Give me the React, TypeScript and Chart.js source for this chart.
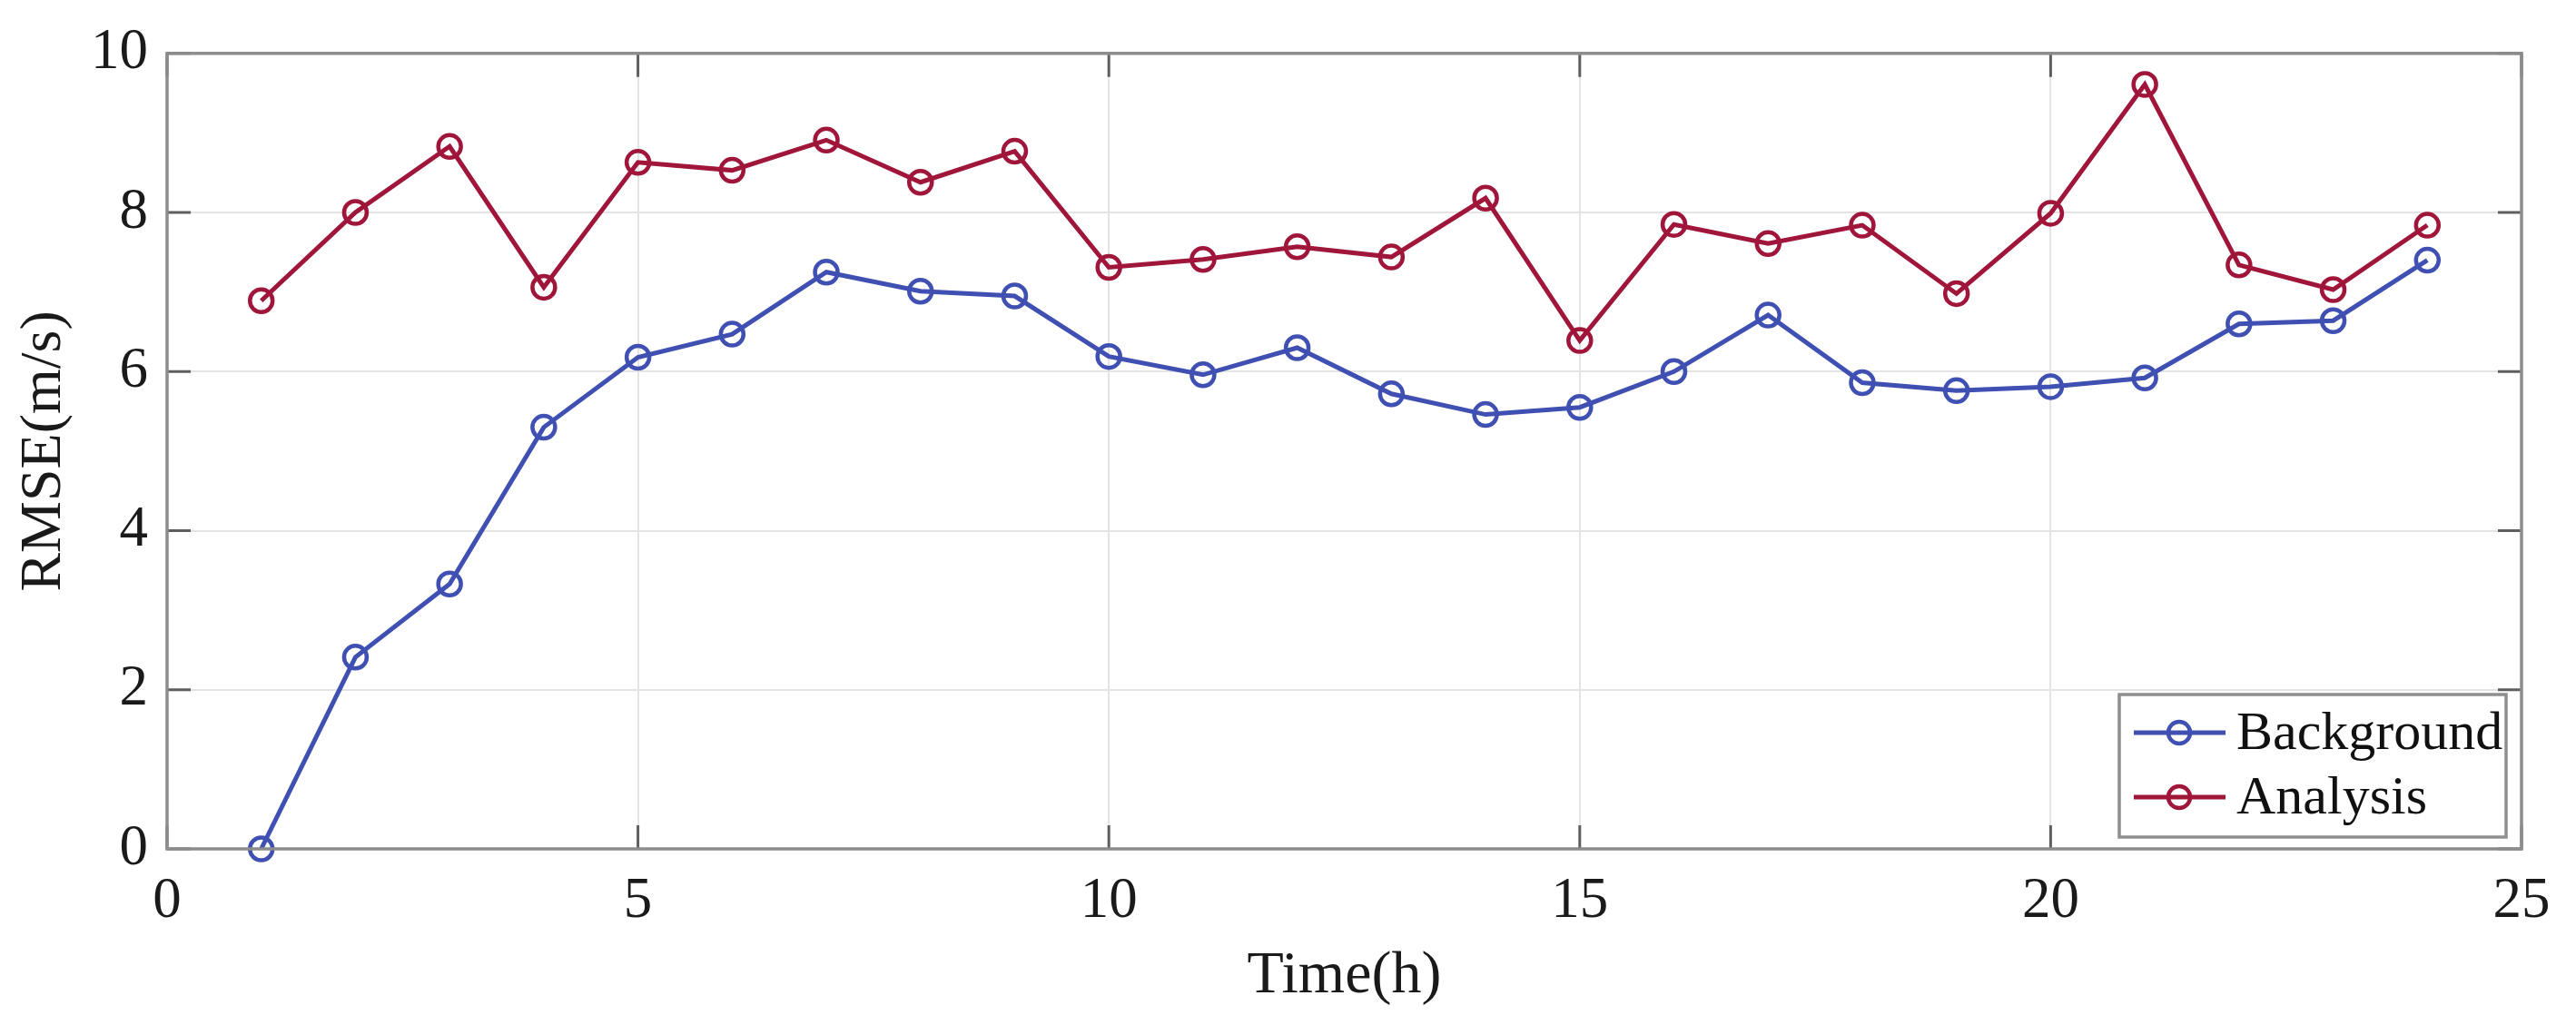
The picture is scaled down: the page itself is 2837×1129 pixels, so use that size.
import React, { useEffect, useRef } from "react";
import { Chart, registerables } from "chart.js";

Chart.register(...registerables);

const hours = [1, 2, 3, 4, 5, 6, 7, 8, 9, 10, 11, 12, 13, 14, 15, 16, 17, 18, 19, 20, 21, 22, 23, 24];
const backgroundRmse = [0, 2.41, 3.33, 5.3, 6.18, 6.47, 7.25, 7.01, 6.95, 6.19, 5.96, 6.3, 5.72, 5.46, 5.55, 6.0, 6.71, 5.86, 5.76, 5.81, 5.92, 6.6, 6.64, 7.4];
const analysisRmse = [6.89, 8.0, 8.83, 7.06, 8.63, 8.53, 8.91, 8.38, 8.77, 7.31, 7.41, 7.57, 7.44, 8.18, 6.39, 7.85, 7.61, 7.84, 6.98, 7.99, 9.61, 7.34, 7.03, 7.84];
const xTicks = [0, 5, 10, 15, 20, 25];
const yTicks = [0, 2, 4, 6, 8, 10];
const seriesLabels = ["Background", "Analysis"];
const xTitle = "Time(h)";
const yTitle = "RMSE(m/s)";

const BLUE = "#3f50b2";
const RED = "#a0163b";
const FONT = "'Liberation Serif', 'Times New Roman', serif";

const framePlugin = {
  id: "framePlugin",
  afterDatasetsDraw(chart: any) {
    const { ctx, chartArea } = chart;
    const { left, right, top, bottom } = chartArea;
    const xs = chart.scales.x;
    const ys = chart.scales.y;
    ctx.save();
    ctx.strokeStyle = "#5e5e5e";
    ctx.lineWidth = 3;
    const tl = 26;
    ctx.beginPath();
    xTicks.forEach((v) => {
      const px = xs.getPixelForValue(v);
      ctx.moveTo(px, bottom);
      ctx.lineTo(px, bottom - tl);
      ctx.moveTo(px, top);
      ctx.lineTo(px, top + tl);
    });
    yTicks.forEach((v) => {
      const py = ys.getPixelForValue(v);
      ctx.moveTo(left, py);
      ctx.lineTo(left + tl, py);
      ctx.moveTo(right, py);
      ctx.lineTo(right - tl, py);
    });
    ctx.stroke();
    ctx.strokeStyle = "#8c8c8c";
    ctx.lineWidth = 3.5;
    ctx.strokeRect(left, top, right - left, bottom - top);
    ctx.restore();
  },
  afterDraw(chart: any) {
    const { ctx } = chart;
    ctx.save();
    const bx = 2334, by = 765, bw = 426, bh = 157;
    ctx.fillStyle = "#ffffff";
    ctx.fillRect(bx, by, bw, bh);
    ctx.strokeStyle = "#8f8f8f";
    ctx.lineWidth = 3.5;
    ctx.strokeRect(bx, by, bw, bh);
    const rows = [807, 878];
    chart.data.datasets.forEach((ds: any, i: number) => {
      const y = rows[i];
      ctx.strokeStyle = ds.borderColor;
      ctx.lineWidth = 5;
      ctx.beginPath();
      ctx.moveTo(2350, y);
      ctx.lineTo(2451, y);
      ctx.stroke();
      ctx.lineWidth = 4.5;
      ctx.beginPath();
      ctx.arc(2400, y, 12, 0, Math.PI * 2);
      ctx.stroke();
      ctx.fillStyle = "#111111";
      ctx.font = `60px ${FONT}`;
      ctx.textAlign = "left";
      ctx.textBaseline = "middle";
      ctx.fillText(ds.label, 2463, y + 2);
    });
    ctx.restore();
  },
};

export default function App() {
  const canvasRef = useRef<HTMLCanvasElement | null>(null);

  useEffect(() => {
    const canvas = canvasRef.current;
    if (!canvas) return;
    const toPoints = (arr: number[]) => arr.map((v, i) => ({ x: hours[i], y: v }));
    const mk = (label: string, arr: number[], color: string) => ({
      label,
      data: toPoints(arr),
      borderColor: color,
      backgroundColor: "rgba(0,0,0,0)",
      borderWidth: 5,
      pointRadius: 12.5,
      pointBorderWidth: 4.5,
      pointBackgroundColor: "rgba(0,0,0,0)",
      pointBorderColor: color,
      tension: 0,
      clip: false as any,
    });
    const chart = new Chart(canvas, {
      type: "line",
      data: {
        datasets: [mk(seriesLabels[0], backgroundRmse, BLUE), mk(seriesLabels[1], analysisRmse, RED)],
      },
      options: {
        responsive: false,
        animation: false,
        devicePixelRatio: 1,
        layout: { padding: { left: 0, top: 43, right: 60, bottom: 0 } },
        plugins: {
          legend: { display: false },
          tooltip: { enabled: false },
        },
        scales: {
          x: {
            type: "linear",
            min: 0,
            max: 25,
            afterFit: (s: any) => {
              s.height = 194;
            },
            afterBuildTicks: (s: any) => {
              s.ticks = xTicks.map((v) => ({ value: v }));
            },
            grid: { color: "#e4e4e4", lineWidth: 2, drawTicks: false },
            border: { display: false },
            ticks: {
              padding: 21,
              color: "#1a1a1a",
              font: { family: FONT, size: 63 },
              maxRotation: 0,
            },
            title: {
              display: true,
              text: xTitle,
              color: "#1a1a1a",
              font: { family: FONT, size: 66 },
              padding: { top: 0, bottom: 14 },
            },
          },
          y: {
            type: "linear",
            min: 0,
            max: 10,
            afterFit: (s: any) => {
              s.width = 184;
            },
            afterBuildTicks: (s: any) => {
              s.ticks = yTicks.map((v) => ({ value: v }));
            },
            grid: { color: "#e4e4e4", lineWidth: 2, drawTicks: false },
            border: { display: false },
            ticks: {
              padding: 21,
              color: "#1a1a1a",
              font: { family: FONT, size: 63 },
            },
            title: {
              display: true,
              text: yTitle,
              color: "#1a1a1a",
              font: { family: FONT, size: 64 },
              padding: { top: 11, bottom: 0 },
            },
          },
        },
      },
      plugins: [framePlugin],
    });
    return () => chart.destroy();
  }, []);

  return (
    <div style={{ position: "fixed", left: 0, top: 0, width: 2837, height: 1129, background: "#ffffff" }}>
      <canvas ref={canvasRef} width={2837} height={1129} style={{ display: "block", width: 2837, height: 1129 }} />
    </div>
  );
}
